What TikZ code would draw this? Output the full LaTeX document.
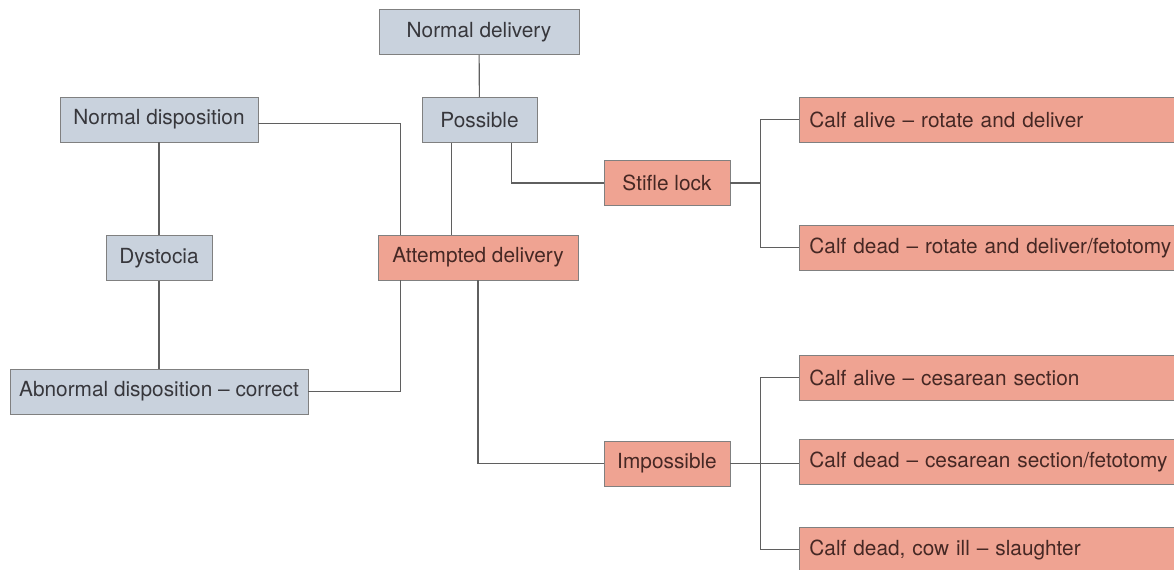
\documentclass[tikz,border=0pt]{standalone}
\usepackage{fontspec}
\setmainfont{TeX Gyre Heros}
\usepackage{tikz}
\usetikzlibrary{positioning}
\definecolor{boxblue}{RGB}{201,210,221}
\definecolor{boxsalmon}{RGB}{239,163,146}
\definecolor{boxedge}{RGB}{128,128,128}
\definecolor{linkgray}{RGB}{95,95,95}
\definecolor{txtgray}{RGB}{55,55,60}
\definecolor{txtbrown}{RGB}{70,40,36}
\tikzset{
  stepnode/.style={draw=boxedge,line width=0.6pt,minimum height=1.125cm,
    inner sep=2pt,font=\fontsize{14.8pt}{17pt}\selectfont},
  bluebox/.style={stepnode,fill=boxblue,text=txtgray},
  salmonbox/.style={stepnode,fill=boxsalmon,text=txtbrown},
  outcome/.style={salmonbox,anchor=west,text width=9.5cm,align=left,
    inner xsep=0.25cm},
  link/.style={draw=linkgray,line width=0.8pt},
}
\begin{document}
\begin{tikzpicture}[x=0.025cm,y=-0.025cm]
  \clip (0,0) rectangle (1174,570);
  \fill[white] (0,0) rectangle (1174,570);
  % left and centre column
  \node[bluebox,minimum width=5cm] (nd) at (479,32) {Normal delivery};
  \node[bluebox,minimum width=2.875cm] (pos) at (479.5,120) {Possible};
  \node[bluebox,minimum width=4.95cm] (ndisp) at (159,119.5) {Normal disposition};
  \node[bluebox,minimum width=2.65cm] (dys) at (159,258) {Dystocia};
  \node[bluebox,minimum width=7.45cm] (abn) at (159,391.5) {Abnormal disposition -- correct};
  \node[salmonbox,minimum width=5cm] (att) at (478,257.5) {Attempted delivery};
  \node[salmonbox,minimum width=3.15cm] (stifle) at (667,183) {Stifle lock};
  \node[salmonbox,minimum width=3.15cm] (imp) at (667,463.5) {Impossible};
  % outcomes on the right
  \node[outcome] (alive1) at (799,119.5) {Calf alive -- rotate and deliver};
  \node[outcome] (dead1) at (799,247.5) {Calf dead -- rotate and deliver/fetotomy};
  \node[outcome] (alive2) at (799,377.5) {Calf alive -- cesarean section};
  \node[outcome] (dead2) at (799,462) {Calf dead -- cesarean section/fetotomy};
  \node[outcome] (ill) at (799,549.5) {Calf dead, cow ill -- slaughter};
  % connectors
  \draw[link] (nd) -- (pos);
  \draw[link] (ndisp) -- (dys);
  \draw[link] (dys) -- (abn);
  \draw[link] ([yshift=-0.09cm]ndisp.east) -| ([xshift=0.575cm]att.north west);
  \draw[link] (abn.east) -| ([xshift=0.575cm]att.south west);
  \draw[link] ([xshift=-0.7cm]pos.south) -- ([xshift=-0.7cm]pos.south |- att.north);
  \draw[link] ([xshift=0.8cm]pos.south) |- (stifle.west);
  \draw[link] (att.south) |- (imp.west);
  \draw[link] (stifle.east) -- ++(30,0) coordinate (sbr);
  \draw[link] (sbr |- alive1.west) -- (alive1.west);
  \draw[link] (sbr |- alive1.west) -- (sbr |- dead1.west) -- (dead1.west);
  \draw[link] (imp.east) -- ++(30,0) coordinate (ibr);
  \draw[link] (ibr |- alive2.west) -- (alive2.west);
  \draw[link] (ibr) -- (ibr -| dead2.west);
  \draw[link] (ibr |- alive2.west) -- (ibr |- ill.west) -- (ill.west);
\end{tikzpicture}
\end{document}
